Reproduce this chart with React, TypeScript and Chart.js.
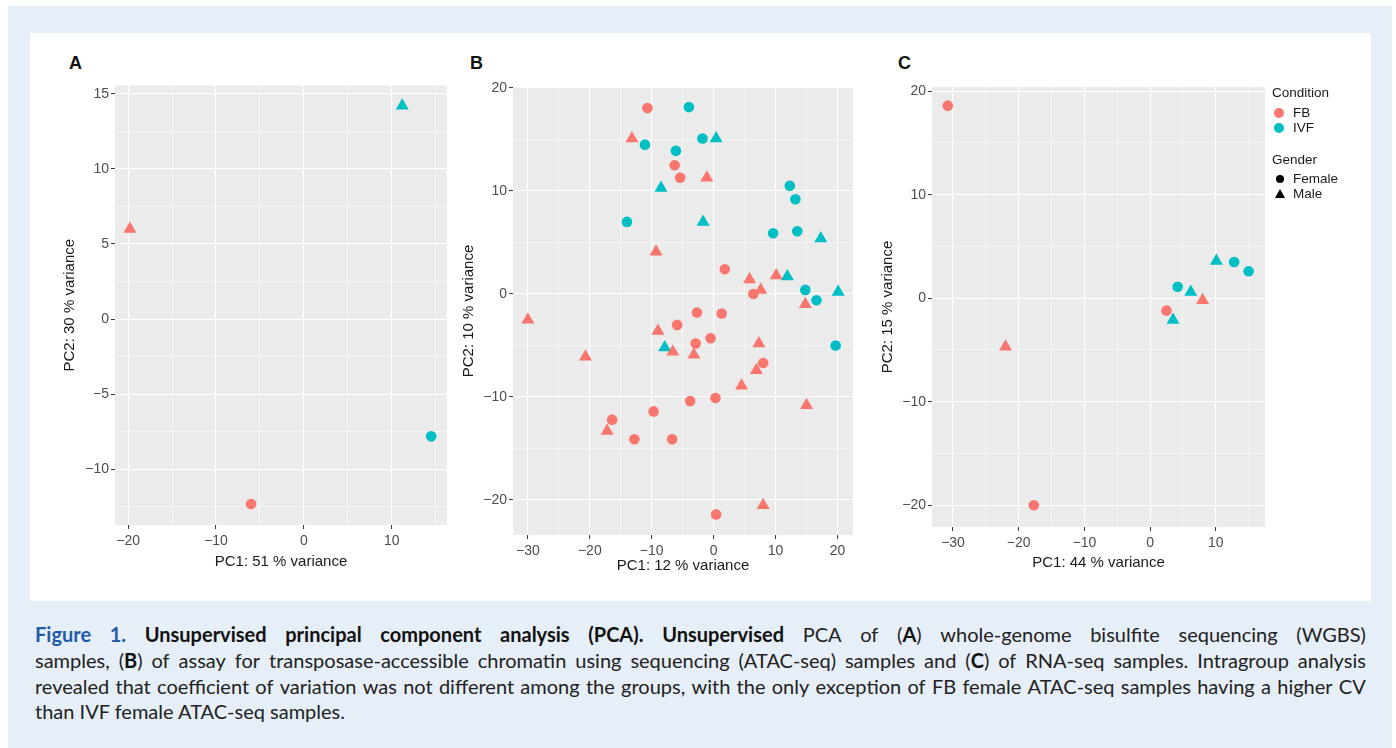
import React, { useEffect, useRef } from 'react';
import { Chart, registerables } from 'chart.js';
Chart.register(...registerables);

// ---------- data (PC1 / PC2 per group) ----------
// A: WGBS
const wgbsFbFemalePC1 = [-6.0];
const wgbsFbFemalePC2 = [-12.3];
const wgbsFbMalePC1 = [-19.8];
const wgbsFbMalePC2 = [6.0];
const wgbsIvfFemalePC1 = [14.5];
const wgbsIvfFemalePC2 = [-7.8];
const wgbsIvfMalePC1 = [11.2];
const wgbsIvfMalePC2 = [14.2];

// B: ATAC-seq
const atacFbFemalePC1 = [-10.7, -6.3, -5.4, 1.8, 6.4, -2.7, 1.3, -5.9, -2.9, -0.5, 8.0, -3.8, 0.3, -9.7, -16.4, -12.8, -6.7, 0.4];
const atacFbFemalePC2 = [18.05, 12.5, 11.3, 2.4, 0.0, -1.8, -1.9, -3.0, -4.8, -4.3, -6.7, -10.4, -10.1, -11.4, -12.2, -14.1, -14.1, -21.4];
const atacFbMalePC1 = [-13.2, -1.1, -9.3, 5.8, 10.1, 7.6, 14.8, -30.0, -9.0, -6.6, -3.2, 7.3, 6.9, 4.5, -20.7, -17.2, 15.0, 8.0];
const atacFbMalePC2 = [15.1, 11.3, 4.1, 1.4, 1.8, 0.4, -1.0, -2.5, -3.6, -5.6, -5.9, -4.8, -7.4, -8.9, -6.1, -13.3, -10.8, -20.5];
const atacIvfFemalePC1 = [-4.0, -11.1, -1.8, -6.1, 12.3, 13.2, -14.0, 9.6, 13.5, 14.8, 16.6, 19.7];
const atacIvfFemalePC2 = [18.15, 14.5, 15.1, 13.9, 10.5, 9.2, 7.0, 5.9, 6.1, 0.4, -0.6, -5.0];
const atacIvfMalePC1 = [0.4, -8.5, -1.7, 17.3, 11.9, 20.1, -7.9];
const atacIvfMalePC2 = [15.1, 10.3, 7.0, 5.4, 1.7, 0.2, -5.2];

// C: RNA-seq
const rnaFbFemalePC1 = [-30.8, -17.7, 2.5];
const rnaFbFemalePC2 = [18.6, -20.0, -1.2];
const rnaFbMalePC1 = [-22.0, 8.0];
const rnaFbMalePC2 = [-4.7, -0.2];
const rnaIvfFemalePC1 = [4.2, 12.8, 15.0];
const rnaIvfFemalePC2 = [1.1, 3.5, 2.6];
const rnaIvfMalePC1 = [3.5, 6.2, 10.1];
const rnaIvfMalePC2 = [-2.1, 0.6, 3.6];

const conditionLabels = ['FB', 'IVF'];
const genderLabels = ['Female', 'Male'];

// ---------- styles ----------
const FB_COLOR = '#F8766D';
const IVF_COLOR = '#00BFC4';
const FONT = '"Liberation Sans", Arial, Helvetica, sans-serif';

const zip = (xs: number[], ys: number[]) => xs.map((x, i) => ({ x, y: ys[i] }));

const fmt = (v: number) => (v < 0 ? '\u2212' + Math.abs(v) : String(v));

const panelBg = {
  id: 'panelBg',
  beforeDraw(chart: any) {
    const { ctx, chartArea } = chart;
    if (!chartArea) return;
    ctx.save();
    ctx.fillStyle = '#EBEBEB';
    ctx.fillRect(chartArea.left, chartArea.top, chartArea.right - chartArea.left, chartArea.bottom - chartArea.top);
    ctx.restore();
  },
};

type AxisCfg = { min: number; max: number; major: number; minor: number; title: string; titlePad: number };
type PanelCfg = {
  letter: string; letterLeft: number;
  left: number; top: number; width: number; height: number;
  yAxisW: number; xAxisH: number; padTop: number; padRight: number;
  x: AxisCfg; y: AxisCfg;
  sets: { pts: { x: number; y: number }[]; color: string; shape: string }[];
};

const isMajor = (v: number, major: number) => Math.abs(v / major - Math.round(v / major)) < 1e-6;

function axis(cfg: AxisCfg, isX: boolean, size: number) {
  return {
    type: 'linear',
    min: cfg.min,
    max: cfg.max,
    afterFit: (s: any) => {
      if (isX) s.height = size; else s.width = size;
    },
    border: { display: false },
    grid: {
      color: '#FFFFFF',
      lineWidth: (c: any) => (c.tick && isMajor(c.tick.value, cfg.major) ? 1.1 : 0.5),
      drawTicks: true,
      tickLength: 4,
      tickWidth: 1,
      tickColor: (c: any) => (c.tick && isMajor(c.tick.value, cfg.major) ? '#333333' : 'rgba(0,0,0,0)'),
    },
    ticks: {
      stepSize: cfg.minor,
      includeBounds: false,
      autoSkip: false,
      maxRotation: 0,
      padding: isX ? 4 : 2,
      color: '#4D4D4D',
      font: { family: FONT, size: 14 },
      callback: (v: any) => (isMajor(Number(v), cfg.major) ? fmt(Number(v)) : ''),
    },
    title: {
      display: true,
      text: cfg.title,
      color: '#1A1A1A',
      font: { family: FONT, size: 15 },
      padding: isX ? { top: 0, bottom: cfg.titlePad } : { top: cfg.titlePad, bottom: 0 },
    },
  };
}

const panels: PanelCfg[] = [
  {
    letter: 'A', letterLeft: 69, left: 60, top: 75, width: 400, height: 500,
    yAxisW: 55, xAxisH: 50, padTop: 10, padRight: 13,
    x: { min: -21.5, max: 16.3, major: 10, minor: 5, title: 'PC1: 51 % variance', titlePad: 4 },
    y: { min: -13.7, max: 15.55, major: 5, minor: 2.5, title: 'PC2: 30 % variance', titlePad: 1 },
    sets: [
      { pts: zip(wgbsFbFemalePC1, wgbsFbFemalePC2), color: FB_COLOR, shape: 'circle' },
      { pts: zip(wgbsFbMalePC1, wgbsFbMalePC2), color: FB_COLOR, shape: 'triangle' },
      { pts: zip(wgbsIvfFemalePC1, wgbsIvfFemalePC2), color: IVF_COLOR, shape: 'circle' },
      { pts: zip(wgbsIvfMalePC1, wgbsIvfMalePC2), color: IVF_COLOR, shape: 'triangle' },
    ],
  },
  {
    letter: 'B', letterLeft: 470, left: 460, top: 75, width: 410, height: 500,
    yAxisW: 53, xAxisH: 40, padTop: 12, padRight: 17,
    x: { min: -32.4, max: 22.5, major: 10, minor: 5, title: 'PC1: 12 % variance', titlePad: 0 },
    y: { min: -23.4, max: 20.1, major: 10, minor: 5, title: 'PC2: 10 % variance', titlePad: 0 },
    sets: [
      { pts: zip(atacFbFemalePC1, atacFbFemalePC2), color: FB_COLOR, shape: 'circle' },
      { pts: zip(atacFbMalePC1, atacFbMalePC2), color: FB_COLOR, shape: 'triangle' },
      { pts: zip(atacIvfFemalePC1, atacIvfFemalePC2), color: IVF_COLOR, shape: 'circle' },
      { pts: zip(atacIvfMalePC1, atacIvfMalePC2), color: IVF_COLOR, shape: 'triangle' },
    ],
  },
  {
    letter: 'C', letterLeft: 898, left: 875, top: 75, width: 400, height: 500,
    yAxisW: 57, xAxisH: 48, padTop: 12, padRight: 10,
    x: { min: -33.2, max: 17.5, major: 10, minor: 5, title: 'PC1: 44 % variance', titlePad: 3 },
    y: { min: -22.1, max: 20.4, major: 10, minor: 5, title: 'PC2: 15 % variance', titlePad: 4 },
    sets: [
      { pts: zip(rnaFbFemalePC1, rnaFbFemalePC2), color: FB_COLOR, shape: 'circle' },
      { pts: zip(rnaFbMalePC1, rnaFbMalePC2), color: FB_COLOR, shape: 'triangle' },
      { pts: zip(rnaIvfFemalePC1, rnaIvfFemalePC2), color: IVF_COLOR, shape: 'circle' },
      { pts: zip(rnaIvfMalePC1, rnaIvfMalePC2), color: IVF_COLOR, shape: 'triangle' },
    ],
  },
];

function Panel({ cfg }: { cfg: PanelCfg }) {
  const ref = useRef<HTMLCanvasElement>(null);
  useEffect(() => {
    if (!ref.current) return;
    const chart = new Chart(ref.current, {
      type: 'scatter',
      data: {
        datasets: cfg.sets.map((s) => ({
          data: s.pts,
          backgroundColor: s.color,
          borderColor: s.color,
          borderWidth: 0,
          pointStyle: s.shape,
          pointRadius: s.shape === 'circle' ? 5.3 : 7.5,
          pointHoverRadius: s.shape === 'circle' ? 5.3 : 7.5,
        })),
      } as any,
      options: {
        animation: false,
        responsive: false,
        devicePixelRatio: 1,
        layout: { padding: { left: 0, right: cfg.padRight, top: cfg.padTop, bottom: 0 } },
        plugins: { legend: { display: false }, tooltip: { enabled: false } },
        scales: {
          x: axis(cfg.x, true, cfg.xAxisH),
          y: axis(cfg.y, false, cfg.yAxisW),
        } as any,
      },
      plugins: [panelBg],
    });
    return () => chart.destroy();
  }, [cfg]);
  return (
    <>
      <canvas
        ref={ref}
        width={cfg.width}
        height={cfg.height}
        style={{ position: 'absolute', left: cfg.left, top: cfg.top, width: cfg.width, height: cfg.height }}
      />
      <div
        style={{
          position: 'absolute', left: cfg.letterLeft, top: 53, fontFamily: FONT, fontWeight: 700,
          fontSize: 18, lineHeight: '20px', color: '#111',
        }}
      >
        {cfg.letter}
      </div>
    </>
  );
}

function Legend() {
  const txt: React.CSSProperties = { position: 'absolute', fontFamily: FONT, fontSize: 13.5, lineHeight: '16px', color: '#1A1A1A', whiteSpace: 'nowrap' };
  const dot = (left: number, top: number, color: string, d: number): React.CSSProperties => ({
    position: 'absolute', left: left - d / 2, top: top - d / 2, width: d, height: d, borderRadius: '50%', background: color,
  });
  return (
    <>
      <div style={{ ...txt, left: 1272, top: 85 }}>Condition</div>
      <div style={dot(1279, 113, FB_COLOR, 10)} />
      <div style={{ ...txt, left: 1293, top: 105 }}>{conditionLabels[0]}</div>
      <div style={dot(1279, 128, IVF_COLOR, 10)} />
      <div style={{ ...txt, left: 1293, top: 120 }}>{conditionLabels[1]}</div>
      <div style={{ ...txt, left: 1272, top: 152 }}>Gender</div>
      <div style={dot(1280, 179, '#000', 8)} />
      <div style={{ ...txt, left: 1293, top: 171 }}>{genderLabels[0]}</div>
      <div
        style={{
          position: 'absolute', left: 1275, top: 189, width: 0, height: 0,
          borderLeft: '5px solid transparent', borderRight: '5px solid transparent', borderBottom: '9px solid #000',
        }}
      />
      <div style={{ ...txt, left: 1293, top: 186 }}>{genderLabels[1]}</div>
    </>
  );
}

function Caption() {
  const line: React.CSSProperties = {
    position: 'absolute', left: 35, width: 1331, fontFamily: 'Lato, "Open Sans", sans-serif', fontSize: 20,
    lineHeight: '24px', color: '#222', whiteSpace: 'nowrap',
  };
  const b: React.CSSProperties = { fontWeight: 700, color: '#111' };
  return (
    <>
      <div style={{ ...line, top: 622, display: 'flex', justifyContent: 'space-between' }}>
        {'Figure 1. Unsupervised principal component analysis (PCA). Unsupervised PCA of (A) whole-genome bisulfite sequencing (WGBS)'
          .split(' ')
          .map((w, i) => {
            let st: React.CSSProperties = {};
            if (i < 2) st = { fontWeight: 700, color: '#1E5BA8' };
            else if (i < 8) st = b;
            let content: React.ReactNode = w;
            if (w === '(A)') content = <>(<span style={b}>A</span>)</>;
            return <span key={i} style={st}>{content}</span>;
          })}
      </div>
      <div style={{ ...line, top: 648, display: 'flex', justifyContent: 'space-between' }}>
        {'samples, (B) of assay for transposase-accessible chromatin using sequencing (ATAC-seq) samples and (C) of RNA-seq samples. Intragroup analysis'
          .split(' ')
          .map((w, i) => {
            let content: React.ReactNode = w;
            if (w === '(B)') content = <>(<span style={b}>B</span>)</>;
            if (w === '(C)') content = <>(<span style={b}>C</span>)</>;
            return <span key={i}>{content}</span>;
          })}
      </div>
      <div style={{ ...line, top: 674, display: 'flex', justifyContent: 'space-between' }}>
        {'revealed that coefficient of variation was not different among the groups, with the only exception of FB female ATAC-seq samples having a higher CV'
          .split(' ')
          .map((w, i) => <span key={i}>{w}</span>)}
      </div>
      <div style={{ ...line, top: 699 }}>than IVF female ATAC-seq samples.</div>
    </>
  );
}

export default function App() {
  return (
    <div style={{ position: 'fixed', left: 0, top: 0, width: 1396, height: 748, background: '#FFFFFF', overflow: 'hidden' }}>
      <div style={{ position: 'absolute', left: 8, top: 6, width: 1384, height: 742, background: '#E6EEF8' }} />
      <div style={{ position: 'absolute', left: 30, top: 33, width: 1341, height: 568, background: '#FFFFFF' }} />
      {panels.map((p) => (
        <Panel key={p.letter} cfg={p} />
      ))}
      <Legend />
      <Caption />
    </div>
  );
}
